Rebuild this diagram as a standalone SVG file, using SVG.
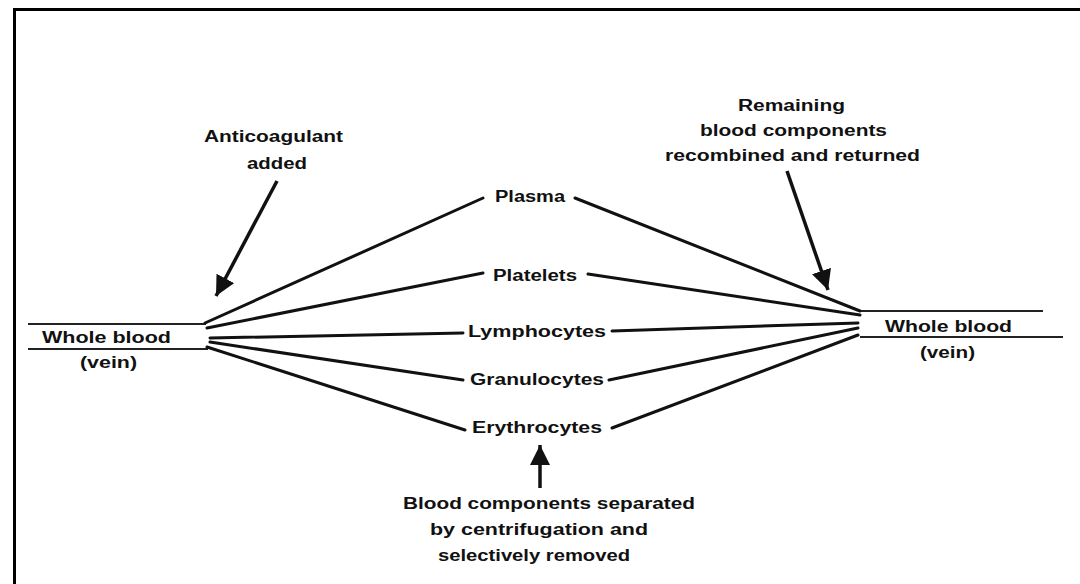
<svg xmlns="http://www.w3.org/2000/svg" width="1080" height="584" viewBox="0 0 1080 584">
<style>
.t{font-family:"Liberation Sans",Arial,sans-serif;font-weight:bold;font-size:16px;fill:#111}
.ln{stroke:#111;stroke-width:3;fill:none;stroke-linecap:round}
.vn{stroke:#222;stroke-width:2;fill:none}
.ar{stroke:#111;stroke-width:3.5;fill:none}
</style>
<defs>
<marker id="ah" markerUnits="userSpaceOnUse" markerWidth="24" markerHeight="24" refX="20" refY="10" orient="auto">
<path d="M0,0 L20,10 L0,20 Z" fill="#111"/>
</marker>
</defs>
<rect width="1080" height="584" fill="#fff"/>
<g id="frame">
<line x1="14.5" y1="9" x2="14.5" y2="584" stroke="#000" stroke-width="3"/>
<line x1="13" y1="9.5" x2="1080" y2="9.5" stroke="#000" stroke-width="3"/>
</g>
<g id="connectors">
<line class="vn" x1="28" y1="324" x2="206" y2="324"/>
<line class="vn" x1="28" y1="349" x2="208" y2="349"/>
<line class="vn" x1="860" y1="311" x2="1043" y2="311"/>
<line class="vn" x1="860" y1="337" x2="1063" y2="337"/>
<line class="ln" x1="205" y1="323" x2="483" y2="198"/>
<line class="ln" x1="207" y1="328" x2="483" y2="273"/>
<line class="ln" x1="210" y1="338" x2="463" y2="333"/>
<line class="ln" x1="210" y1="342" x2="463" y2="380"/>
<line class="ln" x1="207" y1="347" x2="465" y2="430"/>
<line class="ln" x1="575" y1="198" x2="860" y2="311"/>
<line class="ln" x1="588" y1="274" x2="860" y2="315"/>
<line class="ln" x1="612" y1="331" x2="858" y2="323"/>
<line class="ln" x1="609" y1="380" x2="858" y2="328"/>
<line class="ln" x1="612" y1="428" x2="858" y2="335"/>
<line class="ar" x1="277" y1="181" x2="216" y2="296" marker-end="url(#ah)"/>
<line class="ar" x1="787" y1="171" x2="828" y2="290" marker-end="url(#ah)"/>
<line class="ar" x1="540" y1="488" x2="540" y2="445" marker-end="url(#ah)"/>
</g>
<g id="whole-blood-left">
<text class="t" x="42" y="343" textLength="129" lengthAdjust="spacingAndGlyphs">Whole blood</text>
<text class="t" x="80" y="368" textLength="57" lengthAdjust="spacingAndGlyphs">(vein)</text>
</g>
<g id="whole-blood-right">
<text class="t" x="885" y="332" textLength="127" lengthAdjust="spacingAndGlyphs">Whole blood</text>
<text class="t" x="920" y="358" textLength="55" lengthAdjust="spacingAndGlyphs">(vein)</text>
</g>
<g id="plasma"><text class="t" x="495" y="202" textLength="70" lengthAdjust="spacingAndGlyphs">Plasma</text></g>
<g id="platelets"><text class="t" x="493" y="281" textLength="84" lengthAdjust="spacingAndGlyphs">Platelets</text></g>
<g id="lymphocytes"><text class="t" x="468" y="337" textLength="138" lengthAdjust="spacingAndGlyphs">Lymphocytes</text></g>
<g id="granulocytes"><text class="t" x="470" y="385" textLength="134" lengthAdjust="spacingAndGlyphs">Granulocytes</text></g>
<g id="erythrocytes"><text class="t" x="472" y="433" textLength="130" lengthAdjust="spacingAndGlyphs">Erythrocytes</text></g>
<g id="anticoagulant">
<text class="t" x="204" y="142" textLength="139" lengthAdjust="spacingAndGlyphs">Anticoagulant</text>
<text class="t" x="247" y="169" textLength="60" lengthAdjust="spacingAndGlyphs">added</text>
</g>
<g id="remaining">
<text class="t" x="738" y="111" textLength="107" lengthAdjust="spacingAndGlyphs">Remaining</text>
<text class="t" x="700" y="136" textLength="187" lengthAdjust="spacingAndGlyphs">blood components</text>
<text class="t" x="665" y="161" textLength="255" lengthAdjust="spacingAndGlyphs">recombined and returned</text>
</g>
<g id="separated">
<text class="t" x="403" y="509" textLength="292" lengthAdjust="spacingAndGlyphs">Blood components separated</text>
<text class="t" x="430" y="535" textLength="218" lengthAdjust="spacingAndGlyphs">by centrifugation and</text>
<text class="t" x="438" y="561" textLength="192" lengthAdjust="spacingAndGlyphs">selectively removed</text>
</g>
</svg>
